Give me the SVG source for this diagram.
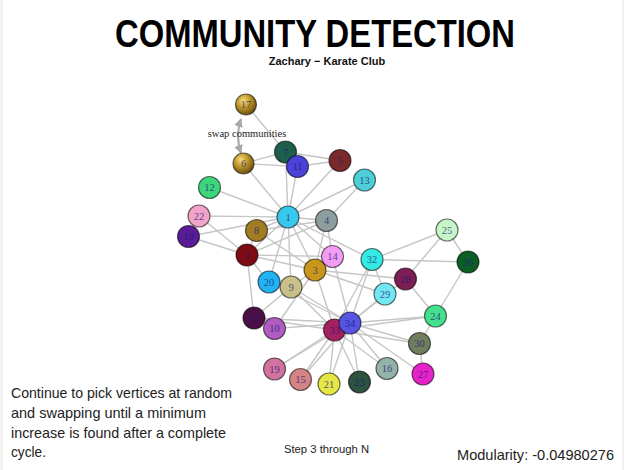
<svg xmlns="http://www.w3.org/2000/svg" width="627" height="470" viewBox="0 0 627 470">
<style>
.e{stroke:#c6c6c6;stroke-width:1.4;fill:none}
.n circle{stroke:#000;stroke-opacity:0.55;stroke-width:1.2}
.n text{font-family:"Liberation Serif",serif;font-size:10.5px;fill:#1a1a78;fill-opacity:0.75;text-anchor:middle;dominant-baseline:central}
.sans{font-family:"Liberation Sans",Arial,sans-serif}
</style>
<defs>
<radialGradient id="gold" cx="0.38" cy="0.32" r="0.7">
<stop offset="0" stop-color="#f6dc7c"/>
<stop offset="0.45" stop-color="#c09a2a"/>
<stop offset="1" stop-color="#6a4e0e"/>
</radialGradient>
<marker id="ah" viewBox="0 0 10 10" refX="9" refY="5" markerWidth="4" markerHeight="4" orient="auto-start-reverse">
<path d="M0,0 L10,5 L0,10 z" fill="#a8a8a8"/>
</marker>
</defs>
<rect width="627" height="470" fill="#fff"/>
<line x1="1.5" y1="0" x2="1.5" y2="470" stroke="#ececec" stroke-width="2"/>
<line x1="623" y1="0" x2="623" y2="470" stroke="#f0f0f0" stroke-width="2"/>

<text class="sans" x="315" y="46.5" font-size="38" font-weight="bold" text-anchor="middle" textLength="400" lengthAdjust="spacingAndGlyphs">COMMUNITY DETECTION</text>
<text class="sans" x="327" y="65" font-size="11" font-weight="bold" text-anchor="middle" fill="#111">Zachary − Karate Club</text>

<g id="connectors">
<line class="e" x1="288" y1="217" x2="247" y2="255"/>
<line class="e" x1="288" y1="217" x2="315" y2="270"/>
<line class="e" x1="288" y1="217" x2="326.5" y2="220.5"/>
<line class="e" x1="288" y1="217" x2="340" y2="160.5"/>
<line class="e" x1="288" y1="217" x2="243.5" y2="163.5"/>
<line class="e" x1="288" y1="217" x2="285.5" y2="152"/>
<line class="e" x1="288" y1="217" x2="256.5" y2="230.5"/>
<line class="e" x1="288" y1="217" x2="291" y2="287"/>
<line class="e" x1="288" y1="217" x2="297.5" y2="166.5"/>
<line class="e" x1="288" y1="217" x2="209.5" y2="187.5"/>
<line class="e" x1="288" y1="217" x2="364.5" y2="180"/>
<line class="e" x1="288" y1="217" x2="332.5" y2="256.5"/>
<line class="e" x1="288" y1="217" x2="188.5" y2="236.5"/>
<line class="e" x1="288" y1="217" x2="269" y2="282"/>
<line class="e" x1="288" y1="217" x2="199" y2="216"/>
<line class="e" x1="288" y1="217" x2="372" y2="259.5"/>
<line class="e" x1="247" y1="255" x2="315" y2="270"/>
<line class="e" x1="247" y1="255" x2="326.5" y2="220.5"/>
<line class="e" x1="247" y1="255" x2="256.5" y2="230.5"/>
<line class="e" x1="247" y1="255" x2="332.5" y2="256.5"/>
<line class="e" x1="247" y1="255" x2="188.5" y2="236.5"/>
<line class="e" x1="247" y1="255" x2="269" y2="282"/>
<line class="e" x1="247" y1="255" x2="199" y2="216"/>
<line class="e" x1="247" y1="255" x2="254" y2="318"/>
<line class="e" x1="315" y1="270" x2="326.5" y2="220.5"/>
<line class="e" x1="315" y1="270" x2="256.5" y2="230.5"/>
<line class="e" x1="315" y1="270" x2="291" y2="287"/>
<line class="e" x1="315" y1="270" x2="274.5" y2="328.5"/>
<line class="e" x1="315" y1="270" x2="332.5" y2="256.5"/>
<line class="e" x1="315" y1="270" x2="405.5" y2="279"/>
<line class="e" x1="315" y1="270" x2="385" y2="294"/>
<line class="e" x1="315" y1="270" x2="334.5" y2="330"/>
<line class="e" x1="326.5" y1="220.5" x2="256.5" y2="230.5"/>
<line class="e" x1="326.5" y1="220.5" x2="364.5" y2="180"/>
<line class="e" x1="326.5" y1="220.5" x2="332.5" y2="256.5"/>
<line class="e" x1="340" y1="160.5" x2="285.5" y2="152"/>
<line class="e" x1="340" y1="160.5" x2="297.5" y2="166.5"/>
<line class="e" x1="243.5" y1="163.5" x2="285.5" y2="152"/>
<line class="e" x1="243.5" y1="163.5" x2="297.5" y2="166.5"/>
<line class="e" x1="285.5" y1="152" x2="246" y2="104.5"/>
<line class="e" x1="291" y1="287" x2="254" y2="318"/>
<line class="e" x1="291" y1="287" x2="334.5" y2="330"/>
<line class="e" x1="291" y1="287" x2="350" y2="323"/>
<line class="e" x1="274.5" y1="328.5" x2="350" y2="323"/>
<line class="e" x1="332.5" y1="256.5" x2="350" y2="323"/>
<line class="e" x1="300.5" y1="379.5" x2="334.5" y2="330"/>
<line class="e" x1="300.5" y1="379.5" x2="350" y2="323"/>
<line class="e" x1="387" y1="368.5" x2="334.5" y2="330"/>
<line class="e" x1="387" y1="368.5" x2="350" y2="323"/>
<line class="e" x1="274.5" y1="369" x2="334.5" y2="330"/>
<line class="e" x1="274.5" y1="369" x2="350" y2="323"/>
<line class="e" x1="269" y1="282" x2="350" y2="323"/>
<line class="e" x1="329" y1="384" x2="334.5" y2="330"/>
<line class="e" x1="329" y1="384" x2="350" y2="323"/>
<line class="e" x1="359.5" y1="382" x2="334.5" y2="330"/>
<line class="e" x1="359.5" y1="382" x2="350" y2="323"/>
<line class="e" x1="435.5" y1="316" x2="468" y2="262"/>
<line class="e" x1="435.5" y1="316" x2="405.5" y2="279"/>
<line class="e" x1="435.5" y1="316" x2="419.5" y2="343.5"/>
<line class="e" x1="435.5" y1="316" x2="334.5" y2="330"/>
<line class="e" x1="435.5" y1="316" x2="350" y2="323"/>
<line class="e" x1="447" y1="230" x2="468" y2="262"/>
<line class="e" x1="447" y1="230" x2="405.5" y2="279"/>
<line class="e" x1="447" y1="230" x2="372" y2="259.5"/>
<line class="e" x1="468" y1="262" x2="372" y2="259.5"/>
<line class="e" x1="423" y1="374" x2="419.5" y2="343.5"/>
<line class="e" x1="423" y1="374" x2="350" y2="323"/>
<line class="e" x1="405.5" y1="279" x2="350" y2="323"/>
<line class="e" x1="385" y1="294" x2="372" y2="259.5"/>
<line class="e" x1="385" y1="294" x2="350" y2="323"/>
<line class="e" x1="419.5" y1="343.5" x2="334.5" y2="330"/>
<line class="e" x1="419.5" y1="343.5" x2="350" y2="323"/>
<line class="e" x1="254" y1="318" x2="334.5" y2="330"/>
<line class="e" x1="254" y1="318" x2="350" y2="323"/>
<line class="e" x1="372" y1="259.5" x2="334.5" y2="330"/>
<line class="e" x1="372" y1="259.5" x2="350" y2="323"/>
<line class="e" x1="334.5" y1="330" x2="350" y2="323"/>
<path d="M241,119 Q235,136 241,153" fill="none" stroke="#ababab" stroke-width="2.2" marker-start="url(#ah)" marker-end="url(#ah)"/>
</g>

<text x="247" y="137" font-family="'Liberation Serif',serif" font-size="10.5" text-anchor="middle" fill="#222">swap communities</text>

<g id="n1" class="n"><circle cx="288" cy="217" r="11" fill="#38c8ec"/><text x="288" y="217">1</text></g>
<g id="n2" class="n"><circle cx="247" cy="255" r="11" fill="#7e0a12"/><text x="247" y="255">2</text></g>
<g id="n3" class="n"><circle cx="315" cy="270" r="11" fill="#c8961a"/><text x="315" y="270">3</text></g>
<g id="n4" class="n"><circle cx="326.5" cy="220.5" r="11" fill="#8d9e9f"/><text x="326.5" y="220.5">4</text></g>
<g id="n5" class="n"><circle cx="340" cy="160.5" r="11" fill="#7b2a2c"/><text x="340" y="160.5">5</text></g>
<g id="n6" class="n"><circle cx="243.5" cy="163.5" r="10.5" fill="url(#gold)" stroke-opacity="0.15"/><text x="243.5" y="163.5">6</text></g>
<g id="n7" class="n"><circle cx="285.5" cy="152" r="11" fill="#1d5e4c"/><text x="285.5" y="152">7</text></g>
<g id="n8" class="n"><circle cx="256.5" cy="230.5" r="11" fill="#a27c22"/><text x="256.5" y="230.5">8</text></g>
<g id="n9" class="n"><circle cx="291" cy="287" r="11" fill="#c9c089"/><text x="291" y="287">9</text></g>
<g id="n11" class="n"><circle cx="297.5" cy="166.5" r="11" fill="#4b42d8"/><text x="297.5" y="166.5">11</text></g>
<g id="n12" class="n"><circle cx="209.5" cy="187.5" r="11" fill="#3ed67a"/><text x="209.5" y="187.5">12</text></g>
<g id="n13" class="n"><circle cx="364.5" cy="180" r="11" fill="#4ccfd6"/><text x="364.5" y="180">13</text></g>
<g id="n14" class="n"><circle cx="332.5" cy="256.5" r="11" fill="#f39cf3"/><text x="332.5" y="256.5">14</text></g>
<g id="n15" class="n"><circle cx="300.5" cy="379.5" r="11" fill="#d48484"/><text x="300.5" y="379.5">15</text></g>
<g id="n16" class="n"><circle cx="387" cy="368.5" r="11" fill="#93b2aa"/><text x="387" y="368.5">16</text></g>
<g id="n17" class="n"><circle cx="246" cy="104.5" r="10.5" fill="url(#gold)" stroke-opacity="0.15"/><text x="246" y="104.5">17</text></g>
<g id="n18" class="n"><circle cx="188.5" cy="236.5" r="11" fill="#5b1c98"/><text x="188.5" y="236.5">18</text></g>
<g id="n19" class="n"><circle cx="274.5" cy="369" r="11" fill="#d2739f"/><text x="274.5" y="369">19</text></g>
<g id="n20" class="n"><circle cx="269" cy="282" r="11" fill="#22b4f2"/><text x="269" y="282">20</text></g>
<g id="n21" class="n"><circle cx="329" cy="384" r="11" fill="#e6e646"/><text x="329" y="384">21</text></g>
<g id="n22" class="n"><circle cx="199" cy="216" r="11" fill="#f2a4c8"/><text x="199" y="216">22</text></g>
<g id="n23" class="n"><circle cx="359.5" cy="382" r="11" fill="#2e5240"/><text x="359.5" y="382">23</text></g>
<g id="n24" class="n"><circle cx="435.5" cy="316" r="11" fill="#45e08e"/><text x="435.5" y="316">24</text></g>
<g id="n25" class="n"><circle cx="447" cy="230" r="11" fill="#c8f5c8"/><text x="447" y="230">25</text></g>
<g id="n26" class="n"><circle cx="468" cy="262" r="11" fill="#0b5e24"/><text x="468" y="262">26</text></g>
<g id="n27" class="n"><circle cx="423" cy="374" r="11" fill="#e622c8"/><text x="423" y="374">27</text></g>
<g id="n28" class="n"><circle cx="405.5" cy="279" r="11" fill="#7c1f52"/><text x="405.5" y="279">28</text></g>
<g id="n29" class="n"><circle cx="385" cy="294" r="11" fill="#74e8f2"/><text x="385" y="294">29</text></g>
<g id="n30" class="n"><circle cx="419.5" cy="343.5" r="11" fill="#717d5e"/><text x="419.5" y="343.5">30</text></g>
<g id="n31" class="n"><circle cx="254" cy="318" r="11" fill="#4b0f45"/><text x="254" y="318">31</text></g>
<g id="n10" class="n"><circle cx="274.5" cy="328.5" r="11" fill="#b05cc0"/><text x="274.5" y="328.5">10</text></g>
<g id="n32" class="n"><circle cx="372" cy="259.5" r="11" fill="#34eae2"/><text x="372" y="259.5">32</text></g>
<g id="n33" class="n"><circle cx="334.5" cy="330" r="11" fill="#a5215f"/><text x="334.5" y="330">33</text></g>
<g id="n34" class="n"><circle cx="350" cy="323" r="11" fill="#5555e2"/><text x="350" y="323">34</text></g>

<g class="sans" font-size="15" fill="#222">
<text x="11" y="398" textLength="221" lengthAdjust="spacingAndGlyphs">Continue to pick vertices at random</text>
<text x="11" y="418" textLength="195" lengthAdjust="spacingAndGlyphs">and swapping until a minimum</text>
<text x="11" y="438" textLength="215" lengthAdjust="spacingAndGlyphs">increase is found after a complete</text>
<text x="11" y="457" textLength="35" lengthAdjust="spacingAndGlyphs">cycle.</text>
<text x="457" y="460" textLength="157" lengthAdjust="spacingAndGlyphs">Modularity: -0.04980276</text>
</g>
<text class="sans" x="284" y="453" font-size="10" fill="#222" textLength="85" lengthAdjust="spacingAndGlyphs">Step 3 through N</text>
</svg>
